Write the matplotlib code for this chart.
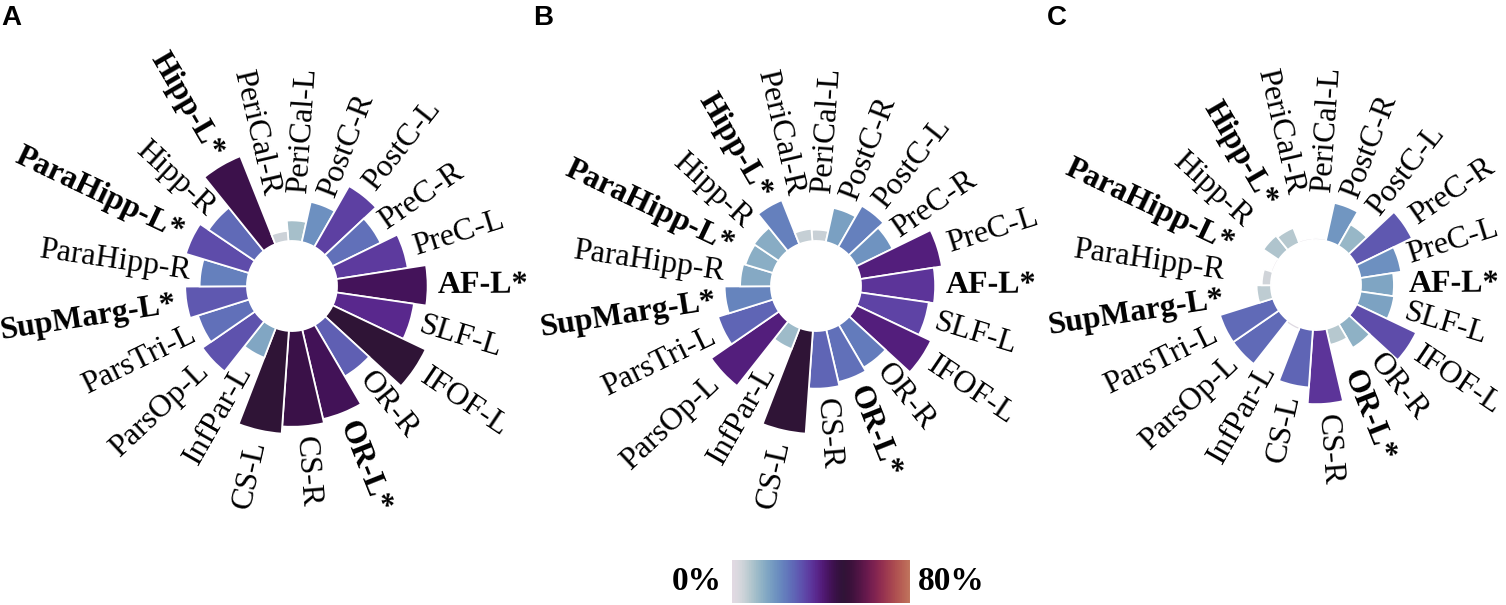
import numpy as np
import matplotlib
matplotlib.use('Agg')
import matplotlib.pyplot as plt
from matplotlib.colors import Normalize, ListedColormap
from matplotlib.colorbar import ColorbarBase

OUT_PNG = 'out.png'

# regions, clockwise starting just right of the top
labels = ['PeriCal-L', 'PostC-R', 'PostC-L', 'PreC-R', 'PreC-L', 'AF-L*', 'SLF-L',
          'IFOF-L', 'OR-R', 'OR-L*', 'CS-R', 'CS-L', 'InfPar-L', 'ParsOp-L',
          'ParsTri-L', 'SupMarg-L*', 'ParaHipp-R', 'ParaHipp-L*', 'Hipp-R',
          'Hipp-L*', 'PeriCal-R']

# percentages
values_a = [10, 20, 34, 26, 35, 44, 38, 50, 29, 44.5, 46.5, 50, 15.5, 31, 26, 30, 23, 32, 27, 46, 5]
values_b = [5.5, 17, 23, 19.5, 40, 36, 33.5, 40, 24, 26, 28, 50, 11, 40, 28, 22.5, 15, 14, 14.5, 23, 6]
values_c = [1, 19, 12, 30, 20, 16, 16.5, 32, 13.5, 8, 36, 28, 1.5, 27, 27, 7, 4.5, 1, 9, 8, 1]

panel_letters = ['A', 'B', 'C']
cbar_min, cbar_max = 0, 80

W, H = 1506, 605
PX_PER_UNIT = 2.06
HOLE = 45 / PX_PER_UNIT
R_PX = 170
CENTERS = [(292, 286), (816, 286), (1316, 285)]
LETTER_X = [1, 533, 1047]
FONT = 'Liberation Serif'


def draw_panel(fig, cx, cy, values):
    left = (cx - R_PX) / W
    bottom = (H - cy - R_PX) / H
    ax = fig.add_axes([left, bottom, 2 * R_PX / W, 2 * R_PX / H], projection='polar')
    ax.set_theta_zero_location('N')
    ax.set_theta_direction(-1)
    ax.set_facecolor('none')

    n = len(labels)
    step = 360.0 / n
    angles = 4.0 + step * np.arange(n)
    theta = np.radians(angles)

    colors = plt.cm.twilight(Normalize(0, 100)(values))
    ax.bar(theta, values, width=np.radians(step), bottom=HOLE, color=colors,
           edgecolor='white', linewidth=1.3, align='center')
    ax.set_ylim(0, R_PX / PX_PER_UNIT)
    ax.axis('off')

    for ang, th, v, lab in zip(angles, theta, values, labels):
        r = HOLE + max(v + 5, 23.3)
        weight = 'bold' if lab.endswith('*') else 'normal'
        # right half reads outwards, left half reads inwards
        if ang < 180:
            rot, ha = 90 - ang, 'left'
        else:
            rot, ha = 270 - ang, 'right'
        ax.text(th, r, lab, rotation=rot, rotation_mode='anchor', ha=ha, va='center',
                fontsize=23, family=FONT, fontweight=weight)


def main():
    fig = plt.figure(figsize=(W / 100, H / 100), dpi=100)

    for (cx, cy), vals, letter, lx in zip(CENTERS, [values_a, values_b, values_c], panel_letters, LETTER_X):
        draw_panel(fig, cx, cy, vals)
        fig.text(lx / W, 1 - 5 / H, letter, fontsize=20, fontweight='bold',
                 family='Liberation Sans', ha='left', va='top')

    # colour bar: twilight cut at 80 %
    cmap = ListedColormap(plt.cm.twilight(np.linspace(0, 0.8, 256)))
    cax = fig.add_axes([732 / W, 2 / H, 178 / W, 43 / H])
    cb = ColorbarBase(cax, cmap=cmap, norm=Normalize(cbar_min, cbar_max), orientation='horizontal')
    cb.outline.set_visible(False)
    cb.set_ticks([])
    fig.text(722 / W, 23 / H, f'{cbar_min}%', fontsize=24, fontweight='bold', family=FONT,
             ha='right', va='center')
    fig.text(918 / W, 23 / H, f'{cbar_max}%', fontsize=24, fontweight='bold', family=FONT,
             ha='left', va='center')

    fig.savefig(OUT_PNG, dpi=100)


if __name__ == '__main__':
    main()
